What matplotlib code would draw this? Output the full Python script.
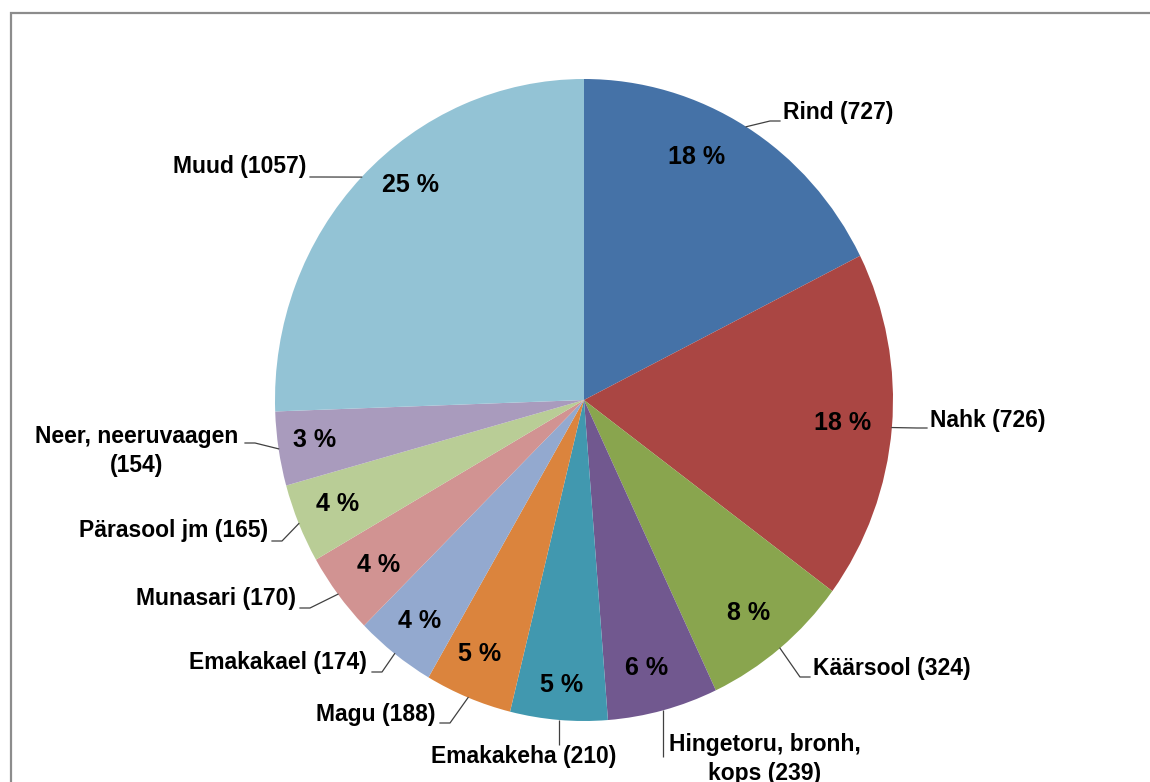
import numpy as np
import matplotlib.pyplot as plt
from matplotlib.patches import Rectangle

# data (clockwise from 12 o'clock)
sites = ['Rind', 'Nahk', 'Käärsool', 'Hingetoru, bronh,\nkops', 'Emakakeha', 'Magu',
         'Emakakael', 'Munasari', 'Pärasool jm', 'Neer, neeruvaagen\n', 'Muud']
counts = [727, 726, 324, 239, 210, 188, 174, 170, 165, 154, 1057]
pct_labels = ['18 %', '18 %', '8 %', '6 %', '5 %', '5 %', '4 %', '4 %', '4 %', '3 %', '25 %']
colors = ['#4572A7', '#AA4643', '#89A54E', '#71588F', '#4198AF', '#DB843D',
          '#93A9CF', '#D19392', '#B9CD96', '#A99BBD', '#93C3D5']

# layout (pixels): pie centre and radii, label anchors
W, H = 1150, 782
CX, CY, RX, RY = 584, 400, 309, 321
label_layout = [  # text x, text y, ha, leader end x, leader end y
    (783, 112, 'left', 780, 121),
    (930, 421, 'left', 927, 428),
    (813, 669, 'left', 810, 677),
    (765, 759, 'center', None, 757),
    (524, 757, 'center', None, 745),
    (436, 714, 'right', 440, 723),
    (367, 662, 'right', 372, 672),
    (296, 599, 'right', 300, 608),
    (268, 531, 'right', 272, 541),
    (137, 451, 'center', 245, 443),
    (306, 167, 'right', 310, 177),
]
# percent label: angle shift from wedge middle (deg) and radius
pct_place = [(6, 0.84), (0, 0.84), (-0.7, 0.85), (-1.2, 0.86), (0, 0.89), (-1, 0.86),
             (0, 0.87), (0.6, 0.84), (-0.5, 0.86), (-0.6, 0.88), (-6, 0.875)]


def px(x, y):
    return (x - CX) / RX, (CY - y) / RY


plt.rcParams['font.family'] = ['Liberation Sans', 'DejaVu Sans']
fig = plt.figure(figsize=(W / 100, H / 100), dpi=100)
ax = fig.add_axes([0, 0, 1, 1])

wedges, texts, autotexts = ax.pie(counts, colors=colors, startangle=90, counterclock=False,
                                  autopct='%1.0f', pctdistance=0.86,
                                  wedgeprops=dict(linewidth=0),
                                  textprops=dict(fontsize=18, fontweight='bold', color='black'))
for w, t, lab, (shift, r) in zip(wedges, autotexts, pct_labels, pct_place):
    a = np.deg2rad((w.theta1 + w.theta2) / 2 + shift)
    t.set_text(lab)
    t.set_position((r * np.cos(a), r * np.sin(a)))

ax.set_aspect('auto')
ax.set_xlim(-CX / RX, (W - CX) / RX)
ax.set_ylim((CY - H) / RY, CY / RY)
ax.axis('off')

for w, name, n, (tx, ty, ha, ex, ey) in zip(wedges, sites, counts, label_layout):
    mid = np.deg2rad((w.theta1 + w.theta2) / 2)
    x0, y0 = np.cos(mid), np.sin(mid)
    if name.endswith('\n'):
        text = name + '(%d)' % n
    else:
        text = '%s (%d)' % (name, n)
    ax.text(*px(tx, ty), text, ha=ha, va='center', fontsize=16.5, fontweight='bold',
            multialignment='center', linespacing=1.3)
    if ex is None:
        x1, y1 = px(0, ey)
        ax.plot([x0, x0], [y0, y1], color='#404040', lw=0.9, solid_capstyle='butt')
    else:
        x1, y1 = px(ex, ey)
        side = 1 if x1 > x0 else -1
        xe = x1 - side * 10 / RX
        ax.plot([x0, xe, x1], [y0, y1, y1], color='#404040', lw=0.9)

# outer chart frame, cut off at right and bottom like the original
fig.patches.append(Rectangle((11 / W, -0.1), 1.2, 1.1 - 13 / H, transform=fig.transFigure,
                             fill=False, edgecolor='#8c8c8c', lw=1.6))

fig.savefig('out.png', dpi=100)
